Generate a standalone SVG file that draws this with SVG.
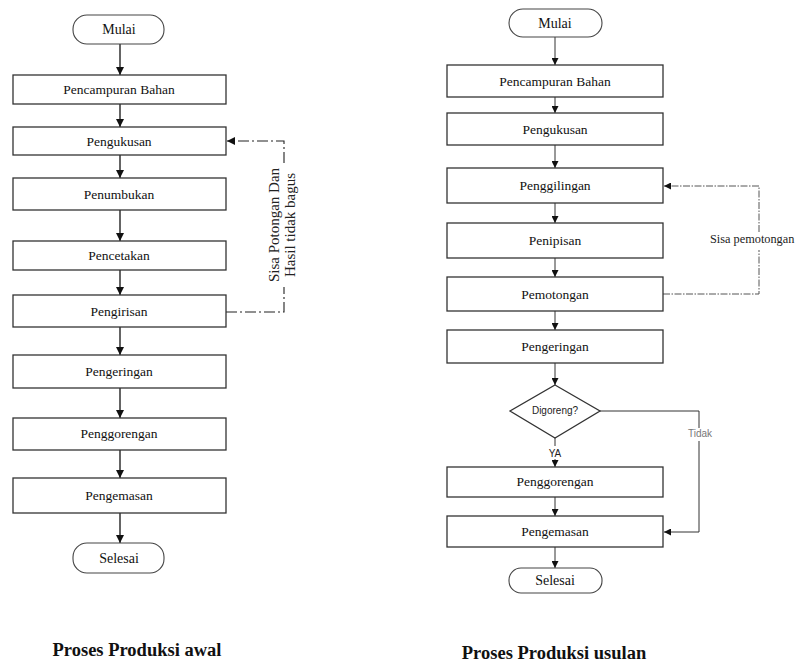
<svg xmlns="http://www.w3.org/2000/svg" width="798" height="664" viewBox="0 0 798 664">
<defs>
<marker id="ah" markerUnits="userSpaceOnUse" markerWidth="8" markerHeight="8" viewBox="0 0 8 8" refX="8" refY="4" orient="auto"><path d="M0,0 L8,4 L0,8 z" fill="#111"/></marker>
<marker id="ahs" markerUnits="userSpaceOnUse" markerWidth="7" markerHeight="7" viewBox="0 0 8 8" refX="8" refY="4" orient="auto"><path d="M0,0 L8,4 L0,8 z" fill="#111"/></marker>
</defs>
<style>
.box{fill:#fff;stroke:#333;stroke-width:1.3}
.term{fill:#fff;stroke:#444;stroke-width:1.1}
.t{font-family:"Liberation Serif",serif;font-size:13.5px;fill:#111;text-anchor:middle}
.tm{font-family:"Liberation Serif",serif;font-size:14px;fill:#111;text-anchor:middle}
.s{font-family:"Liberation Sans",Arial,sans-serif;font-size:10px;fill:#222;text-anchor:middle}
.ln{stroke:#111;stroke-width:1.3;fill:none}
.lr{stroke:#333;stroke-width:1;fill:none}
.dd{stroke:#222;stroke-width:1.1;fill:none;stroke-dasharray:11 3 2 3}
.dr{stroke:#555;stroke-width:1;fill:none;stroke-dasharray:7 1.5 1.5 1.5}
.title{font-family:"Liberation Serif",serif;font-size:18.5px;font-weight:bold;fill:#111;text-anchor:middle}
</style>
<rect width="798" height="664" fill="#fff"/>

<g id="connectors">
<!-- left -->
<line class="ln" x1="120" y1="44" x2="120" y2="75" marker-end="url(#ah)"/>
<line class="ln" x1="120" y1="104" x2="120" y2="127" marker-end="url(#ah)"/>
<line class="ln" x1="120" y1="155" x2="120" y2="178" marker-end="url(#ah)"/>
<line class="ln" x1="120" y1="210" x2="120" y2="241" marker-end="url(#ah)"/>
<line class="ln" x1="120" y1="270" x2="120" y2="295" marker-end="url(#ah)"/>
<line class="ln" x1="120" y1="327" x2="120" y2="355" marker-end="url(#ah)"/>
<line class="ln" x1="120" y1="388" x2="120" y2="418" marker-end="url(#ah)"/>
<line class="ln" x1="120" y1="450" x2="120" y2="478" marker-end="url(#ah)"/>
<line class="ln" x1="120" y1="513" x2="120" y2="543" marker-end="url(#ah)"/>
<path class="dd" d="M226,312 H284 V287"/>
<path class="dd" d="M284,163 V141 H227" marker-end="url(#ah)"/>
<!-- right -->
<line class="lr" x1="555" y1="37" x2="555" y2="65" marker-end="url(#ahs)"/>
<line class="lr" x1="555" y1="97" x2="555" y2="113" marker-end="url(#ahs)"/>
<line class="lr" x1="555" y1="145" x2="555" y2="168" marker-end="url(#ahs)"/>
<line class="lr" x1="555" y1="203" x2="555" y2="223" marker-end="url(#ahs)"/>
<line class="lr" x1="555" y1="258" x2="555" y2="277" marker-end="url(#ahs)"/>
<line class="lr" x1="555" y1="311" x2="555" y2="330" marker-end="url(#ahs)"/>
<line class="lr" x1="555" y1="363" x2="555" y2="385" marker-end="url(#ahs)"/>
<line class="lr" x1="555" y1="438" x2="555" y2="446"/>
<line class="lr" x1="555" y1="459" x2="555" y2="467" marker-end="url(#ahs)"/>
<line class="lr" x1="555" y1="497" x2="555" y2="516" marker-end="url(#ahs)"/>
<line class="lr" x1="555" y1="547" x2="555" y2="568" marker-end="url(#ahs)"/>
<path class="dr" d="M663,294 H759 V250"/>
<path class="dr" d="M759,232 V186 H664" marker-end="url(#ahs)"/>
<path class="lr" stroke="#555" d="M600,411 H699 V428"/>
<path class="lr" stroke="#555" d="M699,441 V532 H664" marker-end="url(#ahs)"/>
</g>

<!-- left chart -->
<g id="l-mulai"><rect class="term" x="73" y="15" width="91" height="29" rx="14"/><text class="tm" x="119" y="34">Mulai</text></g>
<g id="l-pencampuran"><rect class="box" x="13" y="75" width="213" height="29"/><text class="t" x="119" y="94">Pencampuran Bahan</text></g>
<g id="l-pengukusan"><rect class="box" x="13" y="127" width="213" height="28"/><text class="t" x="119" y="146">Pengukusan</text></g>
<g id="l-penumbukan"><rect class="box" x="13" y="178" width="213" height="32"/><text class="t" x="119" y="199">Penumbukan</text></g>
<g id="l-pencetakan"><rect class="box" x="13" y="241" width="213" height="29"/><text class="t" x="119" y="260">Pencetakan</text></g>
<g id="l-pengirisan"><rect class="box" x="13" y="295" width="213" height="32"/><text class="t" x="119" y="316">Pengirisan</text></g>
<g id="l-pengeringan"><rect class="box" x="13" y="355" width="213" height="33"/><text class="t" x="119" y="376">Pengeringan</text></g>
<g id="l-penggorengan"><rect class="box" x="13" y="418" width="213" height="32"/><text class="t" x="119" y="438">Penggorengan</text></g>
<g id="l-pengemasan"><rect class="box" x="13" y="478" width="213" height="35"/><text class="t" x="119" y="500">Pengemasan</text></g>
<g id="l-selesai"><rect class="term" x="73" y="543" width="91" height="30" rx="14"/><text class="tm" x="119" y="563">Selesai</text></g>
<g id="l-loop-label">
<text font-family="'Liberation Serif',serif" font-size="15px" fill="#222" text-anchor="middle" transform="translate(279,225) rotate(-90)">Sisa Potongan Dan</text>
<text font-family="'Liberation Serif',serif" font-size="15px" fill="#222" text-anchor="middle" transform="translate(295,225) rotate(-90)">Hasil tidak bagus</text>
</g>
<text class="title" x="137" y="656">Proses Produksi awal</text>

<!-- right chart -->
<g id="r-mulai"><rect class="term" x="509" y="9" width="93" height="28" rx="14"/><text class="tm" x="555" y="28">Mulai</text></g>
<g id="r-pencampuran"><rect class="box" x="447" y="65" width="216" height="32"/><text class="t" x="555" y="86">Pencampuran Bahan</text></g>
<g id="r-pengukusan"><rect class="box" x="447" y="113" width="216" height="32"/><text class="t" x="555" y="134">Pengukusan</text></g>
<g id="r-penggilingan"><rect class="box" x="447" y="168" width="216" height="35"/><text class="t" x="555" y="190">Penggilingan</text></g>
<g id="r-penipisan"><rect class="box" x="447" y="223" width="216" height="35"/><text class="t" x="555" y="245">Penipisan</text></g>
<g id="r-pemotongan"><rect class="box" x="447" y="277" width="216" height="34"/><text class="t" x="555" y="299">Pemotongan</text></g>
<g id="r-pengeringan"><rect class="box" x="447" y="330" width="216" height="33"/><text class="t" x="555" y="351">Pengeringan</text></g>
<g id="r-digoreng"><polygon class="box" points="555,385 600,411 555,438 510,411"/><text class="s" x="555" y="414">Digoreng?</text></g>
<text class="s" x="555" y="457">YA</text>
<g id="r-penggorengan"><rect class="box" x="447" y="467" width="216" height="30"/><text class="t" x="555" y="486">Penggorengan</text></g>
<g id="r-pengemasan"><rect class="box" x="447" y="516" width="216" height="31"/><text class="t" x="555" y="536">Pengemasan</text></g>
<g id="r-selesai"><rect class="term" x="509" y="568" width="93" height="25" rx="12"/><text class="tm" x="555" y="585">Selesai</text></g>
<text x="710" y="243" font-family="'Liberation Serif',serif" font-size="12.3px" fill="#222">Sisa pemotongan</text>
<text class="s" x="700" y="437" style="fill:#777">Tidak</text>
<text class="title" x="554" y="659">Proses Produksi usulan</text>
</svg>
